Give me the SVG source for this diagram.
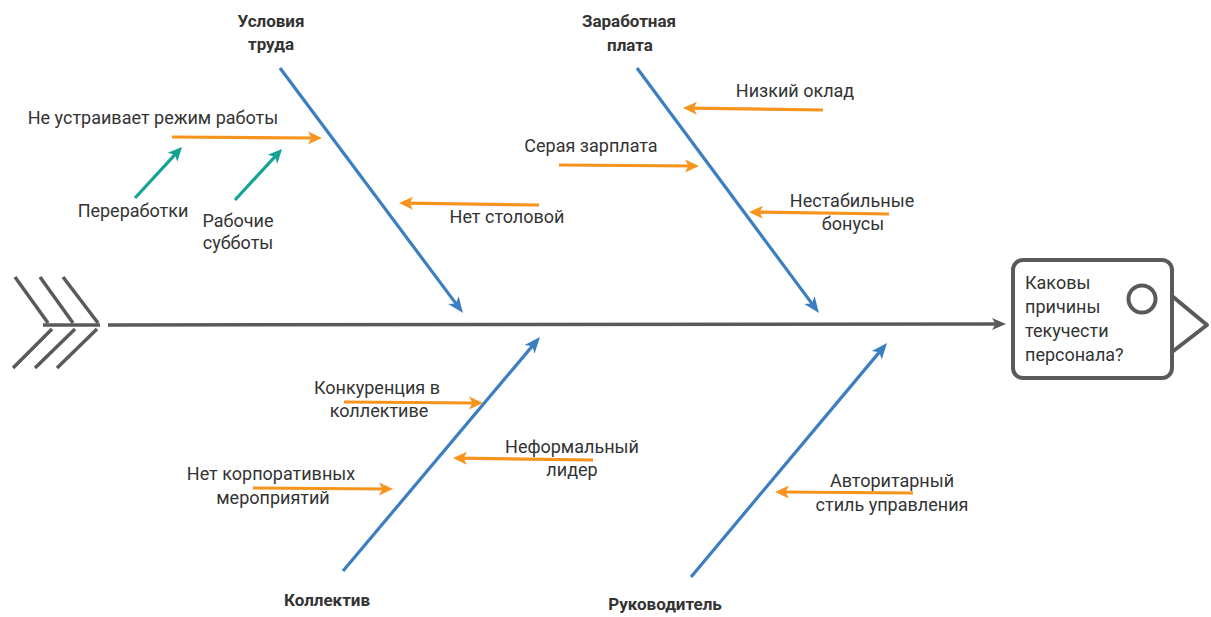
<svg xmlns="http://www.w3.org/2000/svg" width="1211" height="617" viewBox="0 0 1211 617">
  <style>
    .t { font-family: Roboto, "Liberation Sans", sans-serif; font-size: 18px; fill: #333333; }
    .b { font-family: Roboto, "Liberation Sans", sans-serif; font-size: 17px; font-weight: bold; fill: #333333; text-anchor: middle; }
    .m { text-anchor: middle; }
    .blue { stroke: #3b7fc0; stroke-width: 3.2; fill: none; marker-end: url(#ab); }
    .orange { stroke: #f7941d; stroke-width: 3.2; fill: none; marker-end: url(#ao); }
    .teal { stroke: #14a394; stroke-width: 3.2; fill: none; marker-end: url(#at); }
    .gray { stroke: #5a5a5a; stroke-width: 3.5; fill: none; }
  </style>
  <defs>
    <marker id="ab" markerUnits="userSpaceOnUse" markerWidth="20" markerHeight="16" viewBox="0 -8 18 16" refX="8" refY="0" orient="auto">
      <path d="M0,-6.5 L16,0 L0,6.5 L4,0 Z" fill="#3b7fc0"/>
    </marker>
    <marker id="ao" markerUnits="userSpaceOnUse" markerWidth="18" markerHeight="16" viewBox="0 -8 16 16" refX="7" refY="0" orient="auto">
      <path d="M0,-6.5 L14,0 L0,6.5 L3.5,0 Z" fill="#f7941d"/>
    </marker>
    <marker id="at" markerUnits="userSpaceOnUse" markerWidth="18" markerHeight="16" viewBox="0 -8 16 16" refX="7" refY="0" orient="auto">
      <path d="M0,-6.5 L14,0 L0,6.5 L3.5,0 Z" fill="#14a394"/>
    </marker>
    <marker id="ag" markerUnits="userSpaceOnUse" markerWidth="18" markerHeight="16" viewBox="0 -8 16 16" refX="7" refY="0" orient="auto">
      <path d="M0,-6 L14,0 L0,6 L3.5,0 Z" fill="#5a5a5a"/>
    </marker>
  </defs>
  <rect width="1211" height="617" fill="#ffffff"/>

  <g id="tail" class="gray" stroke-linecap="butt">
    <line x1="15" y1="277" x2="48" y2="323"/>
    <line x1="40" y1="277" x2="73" y2="323"/>
    <line x1="63" y1="277" x2="98" y2="323"/>
    <line x1="43" y1="325" x2="100" y2="325"/>
    <line x1="52" y1="329" x2="13" y2="368"/>
    <line x1="75" y1="329" x2="35" y2="368"/>
    <line x1="97" y1="329" x2="57" y2="368"/>
  </g>

  <g id="connectors">
    <line class="gray" x1="108" y1="325" x2="999" y2="324" marker-end="url(#ag)"/>
    <line class="blue" x1="280" y1="68" x2="458.2" y2="306.6"/>
    <line class="blue" x1="637" y1="68" x2="814.2" y2="306.6"/>
    <line class="blue" x1="343" y1="571" x2="534.8" y2="343.1"/>
    <line class="blue" x1="691" y1="577" x2="881.9" y2="349.1"/>
    <line class="orange" x1="172" y1="137" x2="315" y2="138"/>
    <line class="orange" x1="539" y1="205" x2="406" y2="203.1"/>
    <line class="orange" x1="823" y1="110" x2="690" y2="108.1"/>
    <line class="orange" x1="559" y1="165" x2="692" y2="166"/>
    <line class="orange" x1="889" y1="214" x2="756" y2="212.1"/>
    <line class="orange" x1="344" y1="402" x2="476" y2="403"/>
    <line class="orange" x1="593" y1="460" x2="460" y2="458.1"/>
    <line class="orange" x1="253" y1="488" x2="386" y2="489"/>
    <line class="orange" x1="913" y1="493" x2="782" y2="492"/>
    <line class="teal" x1="135" y1="198" x2="177.3" y2="152.1"/>
    <line class="teal" x1="235" y1="200" x2="277.3" y2="154.1"/>
  </g>

  <g id="head">
    <path d="M1172,296 L1207,325 L1172,352" fill="none" stroke="#5a5a5a" stroke-width="4" stroke-linejoin="round"/>
    <rect x="1013" y="260" width="159" height="118" rx="10" ry="10" fill="#ffffff" stroke="#5a5a5a" stroke-width="4"/>
    <circle cx="1142" cy="299" r="13.5" fill="none" stroke="#5a5a5a" stroke-width="4"/>
    <text class="t" x="1025" y="289">Каковы</text>
    <text class="t" x="1025" y="313">причины</text>
    <text class="t" x="1025" y="337">текучести</text>
    <text class="t" x="1025" y="361">персонала?</text>
  </g>

  <g id="cat-usloviya"><text class="b" x="271" y="27">Условия</text><text class="b" x="271" y="50">труда</text></g>
  <g id="cat-zarplata"><text class="b" x="629" y="27">Заработная</text><text class="b" x="630" y="51">плата</text></g>
  <g id="cat-kollektiv"><text class="b" x="327" y="606">Коллектив</text></g>
  <g id="cat-rukovoditel"><text class="b" x="665" y="610">Руководитель</text></g>

  <g id="cause-rezhim"><text class="t m" x="153" y="124">Не устраивает режим работы</text></g>
  <g id="cause-pererabotki"><text class="t m" x="133" y="217">Переработки</text></g>
  <g id="cause-subboty"><text class="t m" x="238" y="227">Рабочие</text><text class="t m" x="238" y="249">субботы</text></g>
  <g id="cause-stolovaya"><text class="t m" x="507" y="223">Нет столовой</text></g>
  <g id="cause-oklad"><text class="t m" x="795" y="97">Низкий оклад</text></g>
  <g id="cause-seraya"><text class="t m" x="591" y="152">Серая зарплата</text></g>
  <g id="cause-bonusy"><text class="t m" x="852" y="207">Нестабильные</text><text class="t m" x="853" y="230">бонусы</text></g>
  <g id="cause-konkurenciya"><text class="t m" x="377" y="394">Конкуренция в</text><text class="t m" x="379" y="417">коллективе</text></g>
  <g id="cause-korporativ"><text class="t m" x="271" y="480">Нет корпоративных</text><text class="t m" x="273" y="504">мероприятий</text></g>
  <g id="cause-lider"><text class="t m" x="572" y="453">Неформальный</text><text class="t m" x="572" y="476">лидер</text></g>
  <g id="cause-avtoritar"><text class="t m" x="892" y="487">Авторитарный</text><text class="t m" x="892" y="511">стиль управления</text></g>
</svg>
